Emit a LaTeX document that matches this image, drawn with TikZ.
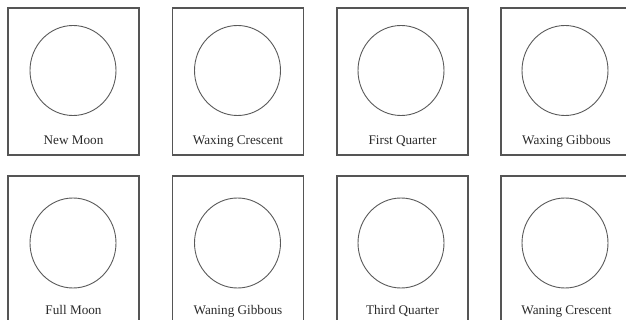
\documentclass[tikz,border=0pt]{standalone}
\usepackage{fontspec}
\setmainfont{Liberation Serif}
\usetikzlibrary{shapes.geometric}
\definecolor{boxline}{HTML}{555555}
\definecolor{moonline}{HTML}{5A5A5A}
\definecolor{labeltext}{HTML}{2A2A2A}
\begin{document}
\begin{tikzpicture}[x=1pt,y=-1pt,
  phasebox/.style={draw=boxline,line width=1.6pt,minimum width=131pt,minimum height=147pt,inner sep=0pt,outer sep=0pt},
  moon/.style={draw=moonline,line width=0.9pt,ellipse,minimum width=86pt,minimum height=90pt,inner sep=0pt},
  phaselabel/.style={anchor=base,text=labeltext,font=\fontsize{13.2pt}{15pt}\selectfont,inner sep=0pt}]
\fill[white] (0,0) rectangle (626,320);
\clip (0,0) rectangle (626,320);
\useasboundingbox (0,0) rectangle (626,320);
% row 1
\node[phasebox] (b1) at (73.5,81.5) {};
\node[phasebox] (b2) at (238,81.5) {};
\node[phasebox] (b3) at (402.5,81.5) {};
\node[phasebox] (b4) at (566.5,81.5) {};
\node[moon] (m1) at (73,70.5) {};
\node[moon] (m2) at (237.5,70.5) {};
\node[moon] (m3) at (401,70.5) {};
\node[moon] (m4) at (565,70.5) {};
\node[phaselabel] (t1) at (73.5,145) {New Moon};
\node[phaselabel] (t2) at (238,145) {Waxing Crescent};
\node[phaselabel] (t3) at (402.5,145) {First Quarter};
\node[phaselabel] (t4) at (566.5,145) {Waxing Gibbous};
% row 2
\node[phasebox] (b5) at (73.5,249.5) {};
\node[phasebox] (b6) at (238,249.5) {};
\node[phasebox] (b7) at (402.5,249.5) {};
\node[phasebox] (b8) at (566.5,249.5) {};
\node[moon] (m5) at (73,243) {};
\node[moon] (m6) at (237.5,243) {};
\node[moon] (m7) at (401,243) {};
\node[moon] (m8) at (565,243) {};
\node[phaselabel] (t5) at (73.5,314) {Full Moon};
\node[phaselabel] (t6) at (238,314) {Waning Gibbous};
\node[phaselabel] (t7) at (402.5,314) {Third Quarter};
\node[phaselabel] (t8) at (566.5,314) {Waning Crescent};
\end{tikzpicture}
\end{document}
